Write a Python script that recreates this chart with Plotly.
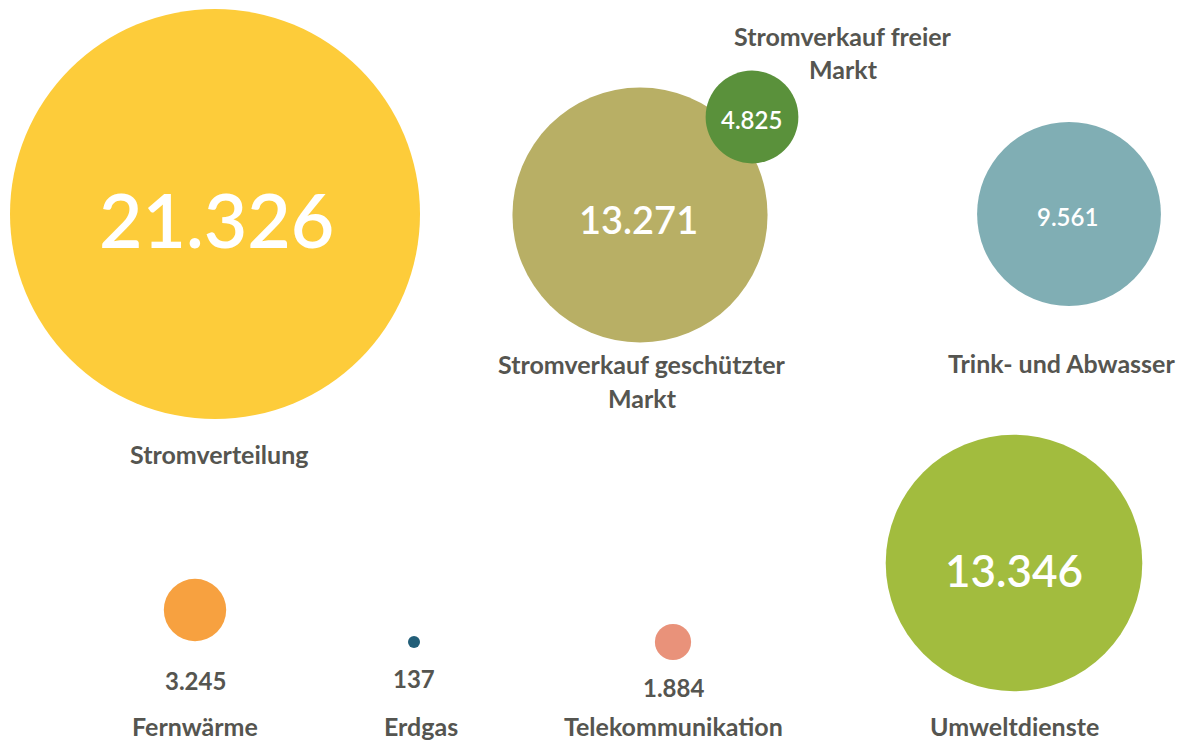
import plotly.graph_objects as go

# ---- data ----
categories = ["Stromverteilung", "Stromverkauf geschützter Markt", "Stromverkauf freier Markt",
              "Trink- und Abwasser", "Umweltdienste", "Fernwärme", "Erdgas", "Telekommunikation"]
values = [21326, 13271, 4825, 9561, 13346, 3245, 137, 1884]
value_labels = ["21.326", "13.271", "4.825", "9.561", "13.346", "3.245", "137", "1.884"]
label_lines = [["Stromverteilung"], ["Stromverkauf geschützter", "Markt"], ["Stromverkauf freier", "Markt"],
               ["Trink- und Abwasser"], ["Umweltdienste"], ["Fernwärme"], ["Erdgas"], ["Telekommunikation"]]

# ---- layout (packed-bubble positions, in pixel space) ----
pos_x = [215, 640, 752, 1069, 1014, 195, 414, 673]
pos_y = [214, 215, 117, 214, 563, 610, 642, 642]
colors = ["#FDCC3A", "#B8AF65", "#5A913B", "#80AEB4", "#A2BC3E", "#F7A140", "#225E78", "#E9927A"]

GREY = "#555550"
# value label placement: inside (white) or below (grey)
val_pos = [(216, 219, 75, "white"), (638, 219, 38, "white"), (751, 119, 24, "white"),
           (1067, 216, 24, "white"), (1014, 570, 44, "white"),
           (195, 680, 24, GREY), (414, 678, 24, GREY), (673, 687, 24, GREY)]
lab_pos = [(219, [454]), (642, [364, 398]), (843, [36, 69]), (1061, [363]),
           (1014, [726]), (195, [726]), (421, [726]), (673, [726])]

FONT = "Lato"

fig = go.Figure()
fig.add_trace(go.Scatter(
    x=pos_x, y=pos_y, mode="markers",
    marker=dict(size=values, sizemode="diameter", sizeref=max(values) / 410, sizemin=6,
                color=colors, opacity=1, line=dict(width=0)),
    text=categories, hoverinfo="text", showlegend=False,
))

annotations = []
for i, lab in enumerate(value_labels):
    x, y, fs, col = val_pos[i]
    annotations.append(dict(x=x, y=y, text=lab, showarrow=False, xanchor="center", yanchor="middle",
                            font=dict(family=FONT, size=fs, color=col, weight=600 if col == "white" else 700)))
for i, lines in enumerate(label_lines):
    x, ys = lab_pos[i]
    for line, y in zip(lines, ys):
        annotations.append(dict(x=x, y=y, text=line, showarrow=False, xanchor="center", yanchor="middle",
                                font=dict(family=FONT, size=25, color=GREY, weight=700)))

fig.update_layout(
    width=1181, height=741,
    margin=dict(l=0, r=0, t=0, b=0),
    paper_bgcolor="white", plot_bgcolor="white",
    xaxis=dict(range=[0, 1181], visible=False, fixedrange=True),
    yaxis=dict(range=[741, 0], visible=False, fixedrange=True),
    annotations=annotations,
)

fig.write_html("out.html", config={"displayModeBar": False},
               post_script="document.body.style.margin='0';")
